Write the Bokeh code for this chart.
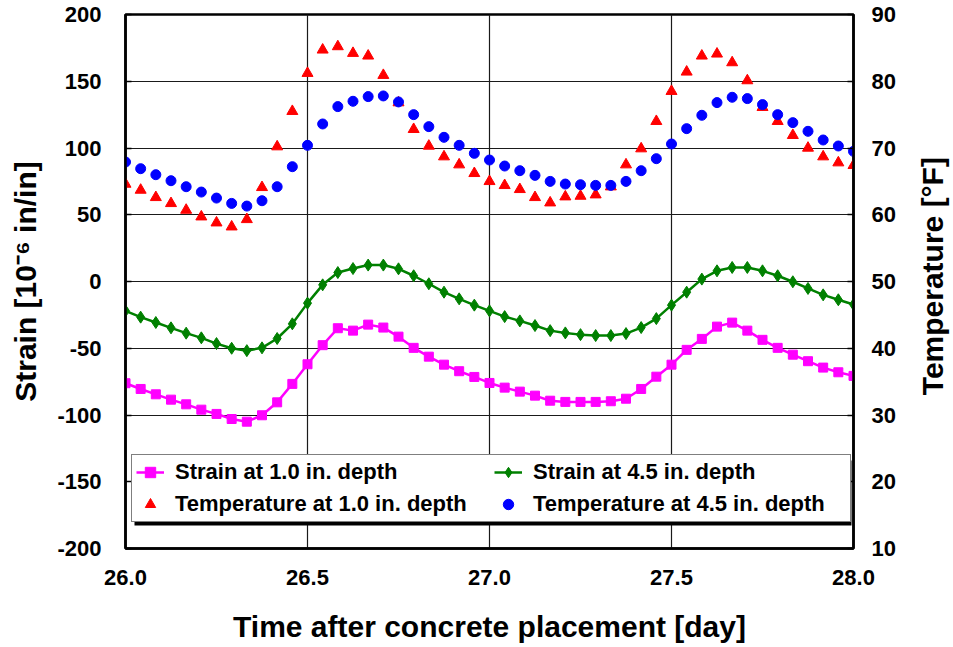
import math
import numpy as np
from bokeh.plotting import figure
from bokeh.layouts import row
from bokeh.models import (Range1d, LinearAxis, FixedTicker, Legend, LegendItem,
                          PrintfTickFormatter, Label)
from bokeh.embed import file_html
from bokeh.resources import INLINE

# Hourly readings over days 26-28 after placement
hours = np.arange(49)
time_day = 26.0 + hours / 24.0

strain_1in = [-76.2, -80.5, -84.5, -88.5, -92.0, -96.0, -99.2, -103.0, -105.0, -100.2,
              -90.5, -76.7, -62.0, -47.7, -35.0, -36.8, -32.3,
              -34.5, -41.3, -49.7, -56.3, -62.3, -67.2, -71.5, -76.0, -79.5,
              -82.5, -85.5, -89.3, -90.2, -90.2, -90.2, -89.7,
              -87.8, -80.5, -71.3, -62.3, -51.2, -43.0, -33.8, -30.8, -36.8,
              -43.7, -49.7, -54.8, -59.7, -64.5, -68.0, -70.7]

strain_4in = [-22.0, -26.7, -30.7, -34.7, -38.7, -42.2, -46.5, -50.0, -51.8, -49.7,
              -42.7, -31.7, -16.2, -2.5, 6.7, 9.7, 12.3,
              12.3, 9.5, 4.3, -1.7, -8.0, -13.0, -17.7, -22.0, -26.3,
              -29.5, -33.0, -36.8, -38.5, -39.8, -40.5, -40.5,
              -39.0, -34.5, -27.8, -17.7, -8.0, 1.8, 8.0, 10.5, 10.5,
              8.0, 4.3, -0.2, -5.2, -10.0, -13.7, -17.2]

temp_1in = [64.6, 63.7, 62.6, 61.7, 60.7, 59.7, 58.8, 58.2, 59.3, 64.1,
            70.2, 75.5, 81.2, 84.7, 85.2, 84.2, 83.8,
            80.9, 76.8, 72.8, 70.3, 68.7, 67.5, 66.2, 65.0, 64.4,
            63.8, 62.6, 61.8, 62.7, 62.8, 63.0, 64.2,
            67.5, 69.9, 74.0, 78.5, 81.4, 83.8, 84.1, 82.8, 80.1,
            76.1, 74.0, 71.9, 70.0, 68.7, 67.8, 67.4]

temp_4in = [67.9, 66.9, 66.0, 65.1, 64.2, 63.4, 62.5, 61.7, 61.3, 62.1,
            64.2, 67.2, 70.4, 73.6, 76.2, 77.0, 77.7,
            77.8, 76.9, 75.0, 73.2, 71.6, 70.4, 69.2, 68.2, 67.3,
            66.6, 65.9, 65.0, 64.6, 64.5, 64.4, 64.4,
            65.0, 66.6, 68.4, 70.6, 72.9, 74.9, 76.8, 77.6, 77.4,
            76.5, 75.0, 73.8, 72.5, 71.2, 70.3, 69.5]

x_ticks = [26.0, 26.5, 27.0, 27.5, 28.0]
strain_ticks = [-200, -150, -100, -50, 0, 50, 100, 150, 200]
temp_ticks = [10, 20, 30, 40, 50, 60, 70, 80, 90]

FONT = "Liberation Sans"
BLACK = "#000000"
STRIP_W = 42          # narrow panel on the right that carries the temperature title
TOTAL_W, TOTAL_H = 953, 647

p = figure(width=TOTAL_W - STRIP_W, height=TOTAL_H, output_backend="svg",
           toolbar_location=None,
           x_range=Range1d(26.0, 28.0), y_range=Range1d(-200, 200),
           min_border_left=125, min_border_right=100 - STRIP_W,
           min_border_top=14, min_border_bottom=99,
           background_fill_color="white", border_fill_color="white")
p.extra_y_ranges = {"temp": Range1d(10, 90)}

p.outline_line_color = BLACK
p.outline_line_width = 2.5

# grid
p.xgrid.ticker = FixedTicker(ticks=x_ticks)
p.ygrid.ticker = FixedTicker(ticks=strain_ticks)
for g in (p.xgrid, p.ygrid):
    g.grid_line_color = "#1a1a1a"
    g.grid_line_width = 1.2

# axes
xa = p.xaxis[0]
xa.ticker = FixedTicker(ticks=x_ticks)
xa.formatter = PrintfTickFormatter(format="%.1f")
xa.axis_label = "Time after concrete placement [day]"
xa.major_tick_in = 0
xa.major_tick_out = 0
xa.major_label_standoff = 21
xa.axis_label_standoff = 22

ya = p.yaxis[0]
ya.ticker = FixedTicker(ticks=strain_ticks)
ya.major_label_overrides = {t: str(t) for t in strain_ticks}
ya.axis_label = "Strain [10\u207B\u2076 in/in]"
ya.major_tick_in = 6
ya.major_tick_out = 0
ya.major_label_standoff = 24
ya.axis_label_standoff = 12

ra = LinearAxis(y_range_name="temp", ticker=FixedTicker(ticks=temp_ticks))
ra.major_tick_in = 6
ra.major_tick_out = 0
ra.major_label_standoff = 18
p.add_layout(ra, "right")

for ax in (xa, ya, ra):
    ax.axis_line_color = BLACK
    ax.axis_line_width = 2.5
    ax.major_tick_line_color = BLACK
    ax.major_tick_line_width = 1.5
    ax.minor_tick_line_color = None
    ax.major_label_text_font = FONT
    ax.major_label_text_font_style = "bold"
    ax.major_label_text_font_size = "22px"
    ax.major_label_text_color = BLACK
    ax.axis_label_text_font = FONT
    ax.axis_label_text_font_style = "bold"
    ax.axis_label_text_font_size = "30px"
    ax.axis_label_text_color = BLACK

# series
s1_line = p.line(time_day, strain_1in, line_color="#FF00FF", line_width=2.5)
s1_mark = p.scatter(time_day, strain_1in, marker="square", size=9,
                    fill_color="#FF00FF", line_color="#FF00FF")
s2_line = p.line(time_day, strain_4in, line_color="#008000", line_width=2.5)
s2_mark = p.scatter(time_day, strain_4in, marker="diamond", size=12,
                    fill_color="#008000", line_color="#008000")
t1_mark = p.scatter(time_day, temp_1in, y_range_name="temp", marker="triangle",
                    size=11, fill_color="#FF0000", line_color="#FF0000")
t2_mark = p.scatter(time_day, temp_4in, y_range_name="temp", marker="circle",
                    size=10, fill_color="#0000FF", line_color="#0000FF")

# legend drop shadow (offset 3 px right/down from the legend box)
px_x = 2.0 / 728.0
px_y = 400.0 / 534.0
p.quad(left=[26.0 + 9 * px_x], right=[26.0 + 726 * px_x],
       bottom=[-200 + 23 * px_y], top=[-200 + 88 * px_y],
       fill_color=BLACK, line_color=None)

# items listed column by column so rows read strain / temperature
legend = Legend(items=[
    LegendItem(label="Strain at 1.0 in. depth", renderers=[s1_line, s1_mark]),
    LegendItem(label="Temperature at 1.0 in. depth", renderers=[t1_mark]),
    LegendItem(label="Strain at 4.5 in. depth", renderers=[s2_line, s2_mark]),
    LegendItem(label="Temperature at 4.5 in. depth", renderers=[t2_mark]),
], ncols=2, location=(6, 26))
legend.margin = 0
legend.padding = 4
legend.spacing = 6
legend.glyph_width = 28
legend.glyph_height = 26
legend.label_height = 26
legend.label_width = 313
legend.label_standoff = 11
legend.label_text_font = FONT
legend.label_text_font_style = "bold"
legend.label_text_font_size = "22px"
legend.label_text_color = BLACK
legend.border_line_color = BLACK
legend.border_line_width = 1.2
legend.background_fill_color = "white"
legend.background_fill_alpha = 1.0
p.add_layout(legend, "center")

# right-hand title strip: text reads bottom to top, beside the plot frame
strip = figure(width=STRIP_W, height=TOTAL_H, output_backend="svg",
               toolbar_location=None,
               x_range=Range1d(0, STRIP_W), y_range=Range1d(0, TOTAL_H),
               min_border=0, min_border_left=0, min_border_right=0,
               min_border_top=0, min_border_bottom=0,
               background_fill_color="white", border_fill_color="white")
strip.axis.visible = False
strip.grid.visible = False
strip.outline_line_color = None
strip.add_layout(Label(x=21, y=TOTAL_H - 317, text="Temperature [\u00B0F]",
                       angle=math.pi / 2, text_align="center", text_baseline="middle",
                       text_font=FONT, text_font_style="bold", text_font_size="30px",
                       text_color=BLACK))

layout = row(p, strip, spacing=0)
open("out.html", "w").write(file_html(layout, INLINE))
